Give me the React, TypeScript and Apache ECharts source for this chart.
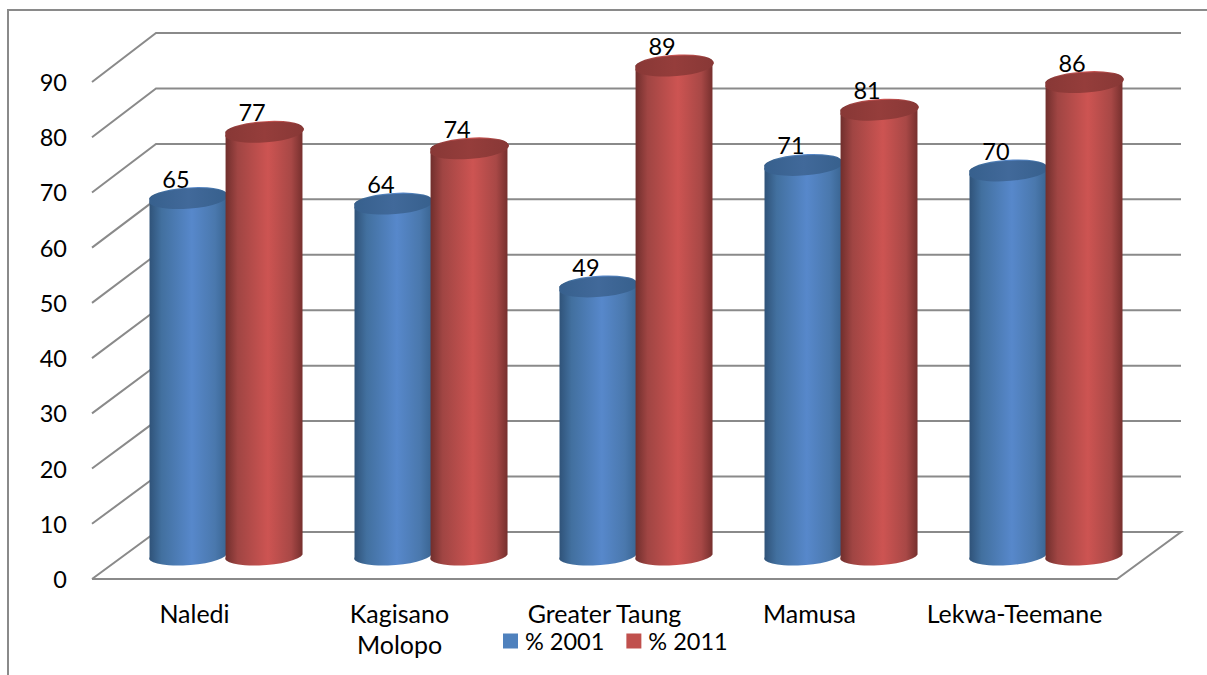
import React, { useEffect, useRef } from "react";
import * as echarts from "echarts";

const categories = ["Naledi", "Kagisano\nMolopo", "Greater Taung", "Mamusa", "Lekwa-Teemane"];
const values2001 = [65, 64, 49, 71, 70];
const values2011 = [77, 74, 89, 81, 86];
const yTicks = [0, 10, 20, 30, 40, 50, 60, 70, 80, 90];

const FONT = "Lato, Carlito, sans-serif";
const CATEGORY_SIZE = 25;
const TEXT_SIZE = 23.5;
const LINE = "#8a8a8a";
// Oblique projection of the chart box: how far the back wall sits from the front plane.
const DEPTH_X = 64;
const DEPTH_Y = -47;
// The back wall's scale is a touch taller than the front plane's.
const BACK_STRETCH = 2 / 90;
const TILT_DEG = 4;
const TILT = (TILT_DEG * Math.PI) / 180;

function wallLines(params: any, api: any) {
  const value = api.value(0);
  const left = api.coord([0, value]);
  const band = api.size([1, 0])[0];
  const x0 = left[0] - band / 2;
  const y = left[1];
  const width = band * categories.length;
  const backY = y + DEPTH_Y - value * BACK_STRETCH;
  const points: number[][] = [
    [x0, y],
    [x0 + DEPTH_X, backY],
    [x0 + DEPTH_X + width, backY],
  ];
  if (value === 0) {
    points.push([x0 + width, y], [x0, y]);
  }
  return {
    type: "polyline",
    shape: { points },
    style: { stroke: LINE, lineWidth: 2, fill: null },
    silent: true,
  };
}

function cylinder(side: number, gradient: string[], capColors: string[]) {
  return (params: any, api: any) => {
    const cat = api.value(0);
    const val = api.value(1);
    const base = api.coord([cat, 0]);
    const top = api.coord([cat, val]);
    const band = api.size([1, 0])[0];
    const rx = band * 0.188;
    const ry = 9.2;
    const cx = base[0] + DEPTH_X / 2 + side * band;
    const by = base[1] + DEPTH_Y / 2 - 1;
    const ty = top[1] + DEPTH_Y / 2 + 1.5;
    const ex = rx * Math.cos(TILT);
    const ey = rx * Math.sin(TILT);
    const arc = `A ${rx} ${ry} ${-TILT_DEG} 0 0`;
    const body =
      `M ${cx - ex} ${ty + ey} L ${cx - ex} ${by + ey} ` +
      `${arc} ${cx + ex} ${by - ey} L ${cx + ex} ${ty - ey} ` +
      `${arc} ${cx - ex} ${ty + ey} Z`;
    const cap =
      `M ${cx - ex} ${ty + ey} ${arc} ${cx + ex} ${ty - ey} ` +
      `${arc} ${cx - ex} ${ty + ey} Z`;
    const bodyFill = new echarts.graphic.LinearGradient(0, 0, 1, 0, [
      { offset: 0, color: gradient[0] },
      { offset: 0.16, color: gradient[1] },
      { offset: 0.55, color: gradient[2] },
      { offset: 0.85, color: gradient[3] },
      { offset: 1, color: gradient[4] },
    ]);
    const capFill = new echarts.graphic.LinearGradient(0, 0, 1, 0, [
      { offset: 0, color: capColors[0] },
      { offset: 0.5, color: capColors[1] },
      { offset: 1, color: capColors[0] },
    ]);
    return {
      type: "group",
      children: [
        { type: "path", shape: { pathData: body }, style: { fill: bodyFill } },
        { type: "path", shape: { pathData: cap }, style: { fill: capFill } },
        {
          type: "text",
          z2: 10,
          style: {
            text: String(val),
            x: cx - 12,
            y: ty - 19.5,
            align: "center",
            verticalAlign: "middle",
            fill: "#000",
            font: `${TEXT_SIZE}px ${FONT}`,
          },
        },
      ],
    };
  };
}

const blueBody = ["#2f5278", "#42709f", "#5788cb", "#4a78ad", "#3a6592"];
const redBody = ["#6f2e2c", "#a04543", "#cd5452", "#a84846", "#752f2d"];

export default function App() {
  const ref = useRef<HTMLDivElement>(null);

  useEffect(() => {
    const chart = echarts.init(ref.current!, null, { renderer: "svg" });
    chart.setOption({
      animation: false,
      backgroundColor: "#fff",
      grid: { left: 92, right: 90, top: 82, bottom: 96 },
      xAxis: {
        type: "category",
        data: categories,
        axisLine: { show: false },
        axisTick: { show: false },
        axisLabel: {
          interval: 0,
          margin: 18.5,
          color: "#000",
          fontFamily: FONT,
          fontSize: CATEGORY_SIZE,
          lineHeight: 31,
        },
      },
      yAxis: {
        type: "value",
        min: 0,
        max: 90,
        interval: 10,
        splitLine: { show: false },
        axisLine: { show: false },
        axisTick: { show: false },
        axisLabel: { margin: 25, color: "#000", fontFamily: FONT, fontSize: TEXT_SIZE },
      },
      legend: {
        left: 503,
        top: 629,
        itemWidth: 15,
        itemHeight: 15,
        itemGap: 22,
        padding: 0,
        textStyle: { color: "#000", fontFamily: FONT, fontSize: TEXT_SIZE, padding: [0, 0, 0, 2] },
        data: [
          { name: "% 2001", icon: "rect", itemStyle: { color: "#4f81bd" } },
          { name: "% 2011", icon: "rect", itemStyle: { color: "#c0504d" } },
        ],
      },
      graphic: [
        {
          type: "polyline",
          silent: true,
          shape: { points: [[8, 675], [8, 10], [1207, 10]] },
          style: { stroke: LINE, lineWidth: 2, fill: null },
        },
      ],
      series: [
        {
          type: "custom",
          name: "walls",
          silent: true,
          z: 1,
          data: yTicks.map((v) => [v]),
          encode: { y: 0 },
          renderItem: wallLines,
        },
        {
          type: "custom",
          name: "% 2001",
          z: 2,
          itemStyle: { color: "#4f81bd" },
          data: values2001.map((v, i) => [i, v]),
          encode: { x: 0, y: 1 },
          renderItem: cylinder(-0.188, blueBody, ["#37608d", "#41699a"]),
        },
        {
          type: "custom",
          name: "% 2011",
          z: 3,
          itemStyle: { color: "#c0504d" },
          data: values2011.map((v, i) => [i, v]),
          encode: { x: 0, y: 1 },
          renderItem: cylinder(0.183, redBody, ["#883836", "#953d3b"]),
        },
      ],
    });
    return () => chart.dispose();
  }, []);

  return (
    <div
      ref={ref}
      style={{ position: "fixed", left: 0, top: 0, width: 1207, height: 675 }}
    />
  );
}
